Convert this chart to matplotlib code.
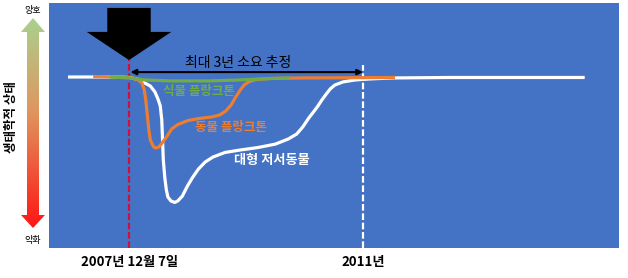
import numpy as np
import matplotlib
matplotlib.use("Agg")
import matplotlib.pyplot as plt
from matplotlib.patches import Polygon
from matplotlib.colors import LinearSegmentedColormap

plt.rcParams['font.family'] = ['Noto Sans CJK KR', 'DejaVu Sans']

# ---- data (x: decimal year, y: ecological state 0=worse .. 100=better) ----
event_year = 2007.93          # 2007-12-07
recovery_year = 2011.0
x_ticks = [event_year, recovery_year]
x_tick_labels = ["2007년 12월 7일", "2011년"]

benthos_x = [2007.13, 2007.68, 2007.94, 2008.05, 2008.14, 2008.21, 2008.27, 2008.31,
             2008.34, 2008.36, 2008.37, 2008.38, 2008.40, 2008.42, 2008.44, 2008.48,
             2008.53, 2008.57, 2008.63, 2008.69, 2008.76, 2008.84, 2008.93, 2009.03,
             2009.19, 2009.39, 2009.62, 2009.85, 2010.02, 2010.13, 2010.21, 2010.29,
             2010.36, 2010.41, 2010.46, 2010.52, 2010.57, 2010.63, 2010.74, 2010.90,
             2011.09, 2011.38, 2012.14, 2013.91]
benthos_y = [69.8, 69.8, 69.6, 68.8, 67.3, 66.1, 63.7, 60.8,
             58.0, 52.2, 44.1, 35.9, 28.6, 23.7, 20.8, 19.2,
             18.6, 19.2, 21.2, 24.9, 28.6, 32.2, 35.1, 37.1,
             39.0, 40.0, 41.0, 42.4, 44.5, 46.5, 49.4, 53.1,
             55.9, 58.0, 60.4, 62.9, 64.9, 66.5, 67.8, 68.6,
             69.0, 69.4, 69.6, 69.6]

zoo_x = [2007.46, 2007.81, 2007.97, 2008.05, 2008.10, 2008.13, 2008.15, 2008.17,
         2008.19, 2008.21, 2008.25, 2008.28, 2008.32, 2008.36, 2008.43, 2008.49,
         2008.57, 2008.70, 2008.86, 2009.02, 2009.12, 2009.20, 2009.27, 2009.33,
         2009.39, 2009.44, 2009.51, 2009.60, 2009.78, 2010.17, 2011.42]
zoo_y = [70.0, 69.8, 69.4, 68.6, 67.3, 64.5, 60.4, 54.3,
         48.2, 44.1, 41.4, 40.8, 41.2, 42.7, 45.7, 48.6,
         50.4, 52.0, 52.9, 53.5, 54.3, 55.9, 58.4, 61.6,
         64.5, 66.5, 68.0, 68.8, 69.2, 69.4, 69.6]

phyto_x = [2007.68, 2007.94, 2008.14, 2008.47, 2008.99, 2009.39, 2009.65, 2010.04]
phyto_y = [69.8, 69.4, 68.6, 68.2, 68.2, 68.6, 69.0, 69.4]

label_phyto = "식물 플랑크톤"
label_zoo = "동물 플랑크톤"
label_benthos = "대형 저서동물"
span_text = "최대 3년 소요 추정"
ylabel_text = "생태학적 상태"
good_text = "양호"
bad_text = "악화"

# ---- figure ----
W, H = 628, 278
fig = plt.figure(figsize=(W / 100, H / 100), dpi=100)
fig.patch.set_facecolor('white')

# decoration axes in pixel coordinates (full figure)
deco = fig.add_axes([0, 0, 1, 1])
deco.set_xlim(0, W)
deco.set_ylim(H, 0)
deco.axis('off')

# main axes (blue panel)
left, right, top, bottom = 49, 619, 3, 248
ax = fig.add_axes([left / W, (H - bottom) / H, (right - left) / W, (bottom - top) / H])
ax.set_facecolor('#4472C4')
ax.set_xlim(2006.88, 2014.36)
ax.set_ylim(0, 100)
for s in ax.spines.values():
    s.set_visible(False)
ax.set_yticks([])
ax.set_xticks(x_ticks)
ax.set_xticklabels(x_tick_labels, fontsize=9.5, fontweight='bold')
ax.tick_params(axis='x', length=0, pad=5)

# vertical dashed lines
ax.plot([event_year, event_year], [0, 76.7], color='#D0103A', lw=1.6,
        dashes=(3, 1.2), zorder=2)
ax.plot([recovery_year, recovery_year], [0, 74.7], color='white', lw=1.6,
        dashes=(3, 1.2), zorder=2)

# curves
common = dict(lw=2.3, solid_capstyle='butt', solid_joinstyle='round')
ax.plot(benthos_x, benthos_y, color='white', zorder=3, **common)
ax.plot(zoo_x, zoo_y, color='#ED7D31', zorder=4, **common)
ax.plot(phyto_x, phyto_y, color='#70AD47', zorder=5, **common)

# curve labels
ax.text(2008.85, 64.0, label_phyto, color='#70AD47', fontsize=9, fontweight='bold',
        ha='center', va='center', zorder=6)
ax.text(2009.27, 49.0, label_zoo, color='#ED7D31', fontsize=9, fontweight='bold',
        ha='center', va='center', zorder=6)
ax.text(2009.80, 36.0, label_benthos, color='white', fontsize=9.5, fontweight='bold',
        ha='center', va='center', zorder=6)

# double-headed span arrow
ax.annotate('', xy=(recovery_year, 71.8), xytext=(event_year + 0.02, 71.8),
            arrowprops=dict(arrowstyle='<|-|>', color='black', lw=1.5,
                            mutation_scale=8, shrinkA=0, shrinkB=0), zorder=6)
ax.text((event_year + recovery_year) / 2 - 0.1, 75.6, span_text, fontsize=10,
        ha='center', va='center', color='black', zorder=6)

# big black down arrow (tip at event)
tip_y, head_y, shaft_top = 76.7, 88.2, 98.0
hw, sw = 0.555, 0.285
arrow_pts = [(event_year, tip_y), (event_year + hw, head_y), (event_year + sw, head_y),
             (event_year + sw, shaft_top), (event_year - sw, shaft_top),
             (event_year - sw, head_y), (event_year - hw, head_y)]
ax.add_patch(Polygon(arrow_pts, closed=True, facecolor='black', edgecolor='none', zorder=7))

# gradient vertical arrow on the left (pixel coords)
cx = 33
ga = [(cx, 18), (cx + 12, 32), (cx + 6, 32), (cx + 6, 215), (cx + 12, 215), (cx, 228),
      (cx - 12, 215), (cx - 6, 215), (cx - 6, 32), (cx - 12, 32)]
poly = Polygon(ga, closed=True, facecolor='none', edgecolor='none')
deco.add_patch(poly)
cmap = LinearSegmentedColormap.from_list('eco', [(0.0, '#A9D18E'), (0.45, '#E0955F'),
                                                  (1.0, '#FF1515')])
grad = np.linspace(0, 1, 256).reshape(-1, 1)
im = deco.imshow(grad, cmap=cmap, extent=[cx - 12, cx + 12, 228, 18], aspect='auto',
                 origin='upper', interpolation='bilinear')
im.set_clip_path(poly)
deco.set_xlim(0, W)
deco.set_ylim(H, 0)

deco.text(cx, 10, good_text, fontsize=6.5, ha='center', va='center')
deco.text(cx, 241, bad_text, fontsize=6.5, ha='center', va='center')
deco.text(12, 117, ylabel_text, fontsize=9, fontweight='bold', rotation=90,
          ha='center', va='center')

fig.savefig('out.png', dpi=100, facecolor='white')
